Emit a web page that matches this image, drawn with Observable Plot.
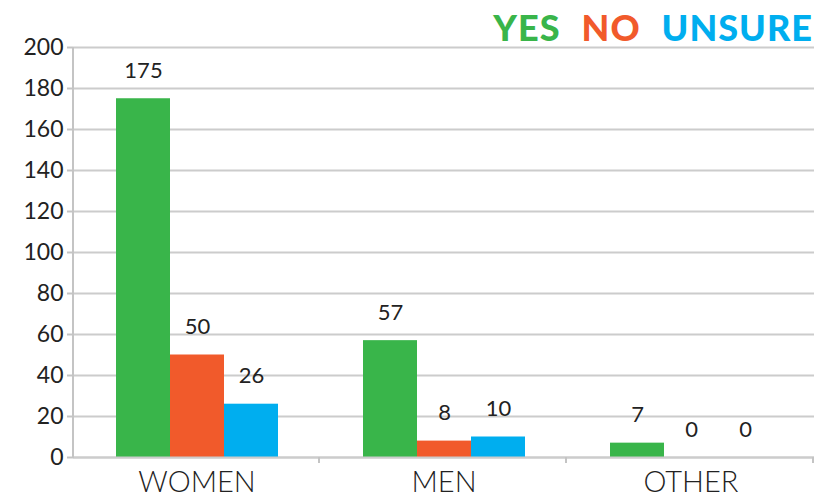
<!DOCTYPE html>
<html><head><meta charset="utf-8">
<script src="https://cdn.jsdelivr.net/npm/d3@7"></script>
<script src="https://cdn.jsdelivr.net/npm/@observablehq/plot@0.6"></script>
<style>
body{margin:0;background:#fff;}
#wrap{position:relative;width:815px;height:497px;}
#legend{position:absolute;top:9px;right:2px;font-family:Lato,sans-serif;font-weight:900;font-size:36px;display:flex;gap:21px;line-height:1;letter-spacing:1px;}
</style></head><body><div id="wrap"><div id="legend"></div></div>
<script>
const categories = ["WOMEN", "MEN", "OTHER"];
const series = ["YES", "NO", "UNSURE"];
const yesValues = [175, 57, 7];
const noValues = [50, 8, 0];
const unsureValues = [26, 10, 0];
const yTicks = [0, 20, 40, 60, 80, 100, 120, 140, 160, 180, 200];
const colors = ["#39b54a", "#f15a2b", "#00aeef"];

const seriesValues = [yesValues, noValues, unsureValues];
const data = categories.flatMap((c, i) => series.map((s, j) => ({category: c, response: s, value: seriesValues[j][i]})));

const legend = document.getElementById("legend");
series.forEach((s, j) => {
  const span = document.createElement("span");
  span.textContent = s;
  span.style.color = colors[j];
  legend.appendChild(span);
});

const plot = Plot.plot({
  width: 815,
  height: 497,
  marginLeft: 72,
  marginRight: 0,
  marginTop: 47,
  marginBottom: 40,
  style: {fontFamily: "Lato, sans-serif", background: "transparent", color: "#222"},
  fx: {domain: categories, padding: 0, label: null},
  x: {domain: series, paddingInner: 0, paddingOuter: 0.775, axis: null},
  y: {domain: [0, 200], label: null},
  color: {domain: series, range: colors},
  marks: [
    Plot.gridY(yTicks, {stroke: "#cccccc", strokeOpacity: 1, strokeWidth: 2}),
    Plot.axisY(yTicks, {tickSize: 6, tickPadding: 4, fontSize: 23, label: null, stroke: "#c4c4c4", strokeWidth: 2, fill: "#222", letterSpacing: "1px"}),
    Plot.axisFx({anchor: "bottom", tickSize: 0, tickPadding: 14, fontSize: 29, label: null, fill: "#222", fontWeight: 300, letterSpacing: "1.2px"}),
    Plot.barY(data, {fx: "category", x: "response", y: "value", fill: "response"}),
    Plot.ruleY([0], {stroke: "#cccccc", strokeWidth: 2}),
    Plot.text(data, {fx: "category", x: "response", y: "value", text: d => String(d.value), dy: -28, fontSize: 22, fill: "#222", letterSpacing: "0.5px"})
  ]
});

const wrap = document.getElementById("wrap");
wrap.appendChild(plot);

// axis lines and band-boundary ticks from the scales
const svg = d3.select(plot);
const fx = plot.scale("fx");
const y = plot.scale("y");
const y0 = y.apply(0);
const yTop = y.apply(200);
const xLeft = fx.apply(categories[0]);
svg.append("line").attr("x1", xLeft).attr("x2", xLeft).attr("y1", yTop).attr("y2", y0 + 1)
  .attr("stroke", "#c4c4c4").attr("stroke-width", 2);
categories.forEach(c => {
  const xb = fx.apply(c) + fx.bandwidth;
  svg.append("line").attr("x1", xb - 1).attr("x2", xb - 1).attr("y1", y0).attr("y2", y0 + 6)
    .attr("stroke", "#c4c4c4").attr("stroke-width", 2);
});
</script></body></html>
